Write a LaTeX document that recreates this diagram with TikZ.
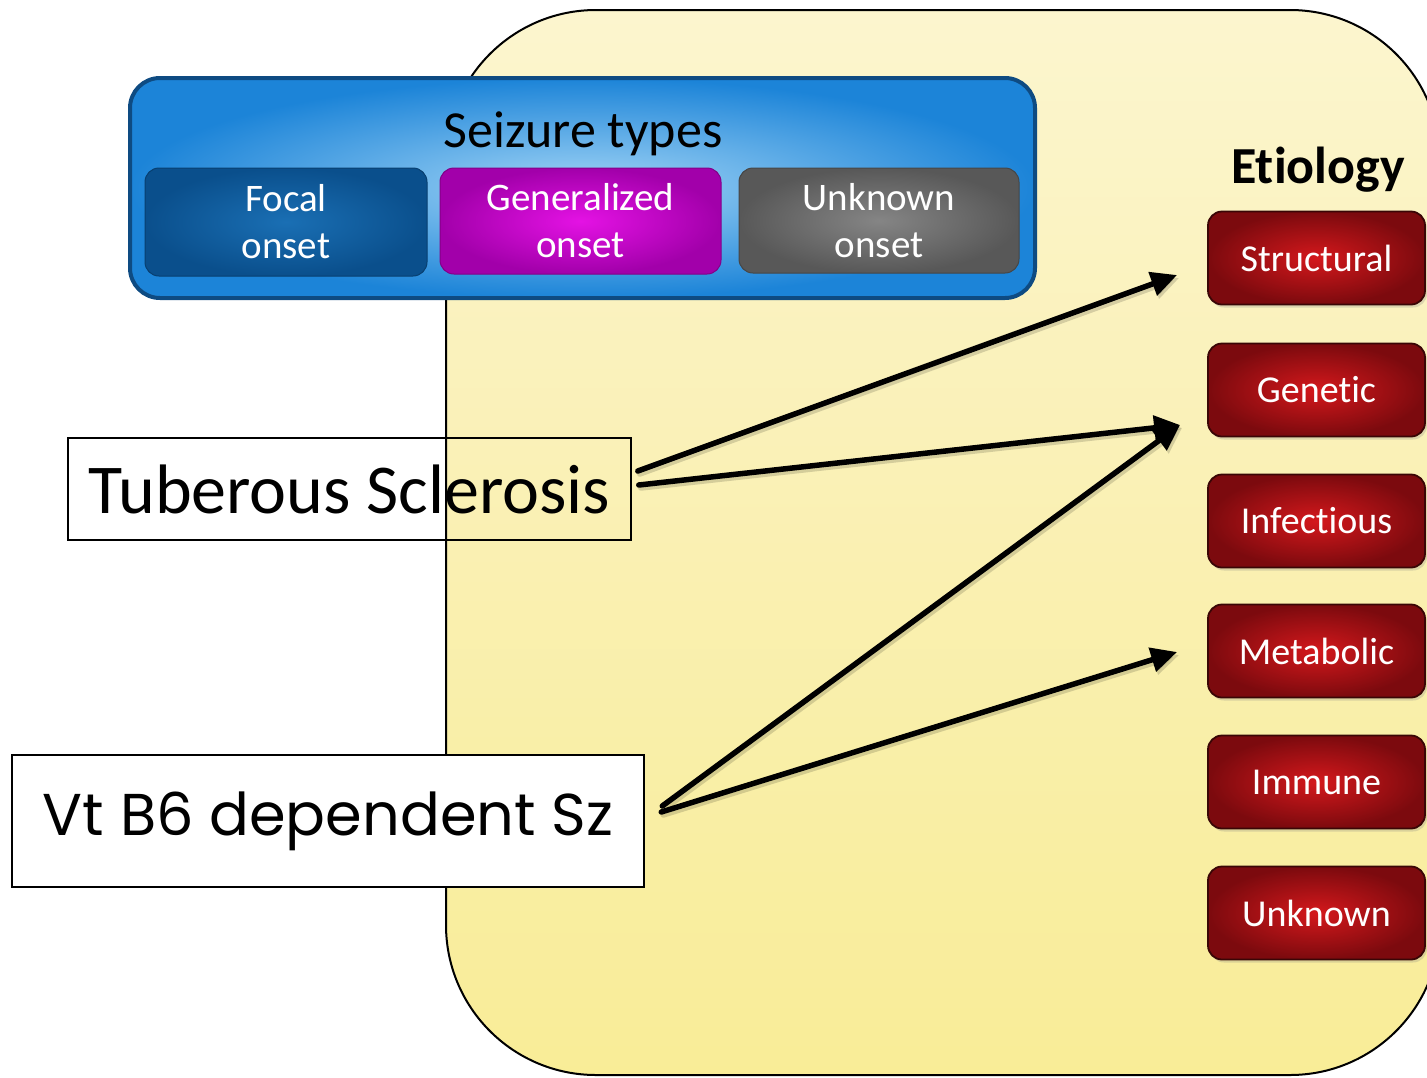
\documentclass[tikz,border=0pt]{standalone}
\usepackage{fontspec}
\setmainfont[Ligatures={NoCommon}]{Carlito}
\newfontfamily\gothic{Poppins}
\usetikzlibrary{arrows.meta,calc,shadows}

\definecolor{yTop}{HTML}{FEFBEA}
\definecolor{yMid}{HTML}{FAF1B8}
\definecolor{yLow}{HTML}{F8EB8C}
\definecolor{yBot}{HTML}{F9F0A4}
\pgfdeclareverticalshading{yellowfade}{100bp}{%
  color(0bp)=(yBot); color(15bp)=(yLow); color(55bp)=(yMid); color(100bp)=(yTop)}

\definecolor{frameEdge}{HTML}{0E4B82}
\definecolor{frameIn}{HTML}{A2D5F6}
\definecolor{frameOut}{HTML}{1C84D8}
\definecolor{focalIn}{HTML}{1A6FB4}
\definecolor{focalOut}{HTML}{0A4F8C}
\definecolor{genIn}{HTML}{E412E4}
\definecolor{genOut}{HTML}{A200AA}
\definecolor{unkIn}{HTML}{858585}
\definecolor{unkOut}{HTML}{585858}
\definecolor{etioIn}{HTML}{D4181C}
\definecolor{etioOut}{HTML}{7C0A0E}
\definecolor{etioEdge}{HTML}{3A0606}

\begin{document}
\begin{tikzpicture}[x=1pt,y=-1pt,
  onsetbox/.style={rounded corners=14pt, minimum width=281pt, minimum height=106pt,
    text=white, font=\fontsize{39}{47}\selectfont, align=center, inner sep=0pt,
    line width=1pt},
  etiobox/.style={rounded corners=14pt, draw=etioEdge, line width=1.8pt,
    inner color=etioIn, outer color=etioOut, minimum width=217pt, minimum height=93pt,
    text=white, font=\fontsize{38}{44}\selectfont, inner sep=0pt,
    drop shadow={shadow xshift=2pt, shadow yshift=-3pt, opacity=0.25}},
  link/.style={line width=5.5pt, line cap=round, -{Triangle[length=26pt,width=24pt]}},
  linkshadow/.style={link, draw=black, opacity=0.15, transform canvas={xshift=2pt,yshift=-3pt}}
]
\useasboundingbox (0,0) rectangle (1427,1077);
\clip (0,0) rectangle (1427,1077);

% yellow etiology field
\path[draw=black, line width=2pt, shading=yellowfade, rounded corners=150pt]
  (446,10) rectangle (1440,1075);

% seizure type panel
\node[draw=frameEdge, line width=4pt, rounded corners=30pt,
      inner color=frameIn, outer color=frameOut,
      minimum width=905pt, minimum height=220pt, inner sep=0pt] (panel) at (582.5,188) {};
\node[font=\fontsize{52}{60}\selectfont, inner sep=0pt] (title) at (583,134) {Seizure types};
\node[onsetbox, draw=focalOut!80!black, inner color=focalIn, outer color=focalOut,
      minimum width=282pt, minimum height=108pt] (focal) at (286,222) {Focal\\onset};
\node[onsetbox, draw=genOut!80!black, inner color=genIn, outer color=genOut] (gen) at (580.5,221) {Generalized\\onset};
\node[onsetbox, draw=unkOut!80!black, inner color=unkIn, outer color=unkOut,
      minimum width=280pt, minimum height=105pt] (unk) at (879,220.5) {Unknown\\onset};

% etiology column
\node[font=\bfseries\fontsize{52}{60}\selectfont, inner sep=0pt] (etio) at (1318,170) {Etiology};
\node[etiobox] (struct) at (1316.5,258) {Structural};
\node[etiobox] (genetic) at (1316.5,390) {Genetic};
\node[etiobox] (infect) at (1316.5,521) {Infectious};
\node[etiobox] (metab) at (1316.5,651) {Metabolic};
\node[etiobox] (immune) at (1316.5,782) {Immune};
\node[etiobox] (unknown) at (1316.5,913) {Unknown};

% conditions
\node[draw, line width=1.6pt, minimum width=563pt, minimum height=102pt, inner sep=0pt,
      font=\fontsize{70}{80}\selectfont] (tsc) at (349.5,489) {Tuberous Sclerosis};
\node[draw, fill=white, line width=2.5pt, minimum width=632pt, minimum height=132pt, inner sep=0pt,
      font=\gothic\fontsize{59}{70}\selectfont] (vtb) at (328,821) {Vt B6 dependent Sz};

% anchor points of the links
\coordinate (tscA) at ([xshift=6pt,yshift=18pt]tsc.east);
\coordinate (tscB) at ([xshift=7pt,yshift=4pt]tsc.east);
\coordinate (vtbA) at ([xshift=17pt,yshift=15pt]vtb.east);
\coordinate (vtbB) at ([xshift=16pt,yshift=9pt]vtb.east);
\coordinate (structIn) at ([xshift=-30pt,yshift=-17pt]struct.west);
\coordinate (geneticIn) at ([xshift=-27pt,yshift=-35pt]genetic.west);
\coordinate (metabIn) at ([xshift=-30pt,yshift=-1pt]metab.west);

% soft shadows under the links
\draw[linkshadow] (tscA) -- (structIn);
\draw[linkshadow] (tscB) -- (geneticIn);
\draw[linkshadow] (vtbA) -- (geneticIn);
\draw[linkshadow] (vtbB) -- (metabIn);

% links from conditions to etiologies
\draw[link] (tscA) -- (structIn);
\draw[link] (tscB) -- (geneticIn);
\draw[link] (vtbA) -- (geneticIn);
\draw[link] (vtbB) -- (metabIn);
\end{tikzpicture}
\end{document}
